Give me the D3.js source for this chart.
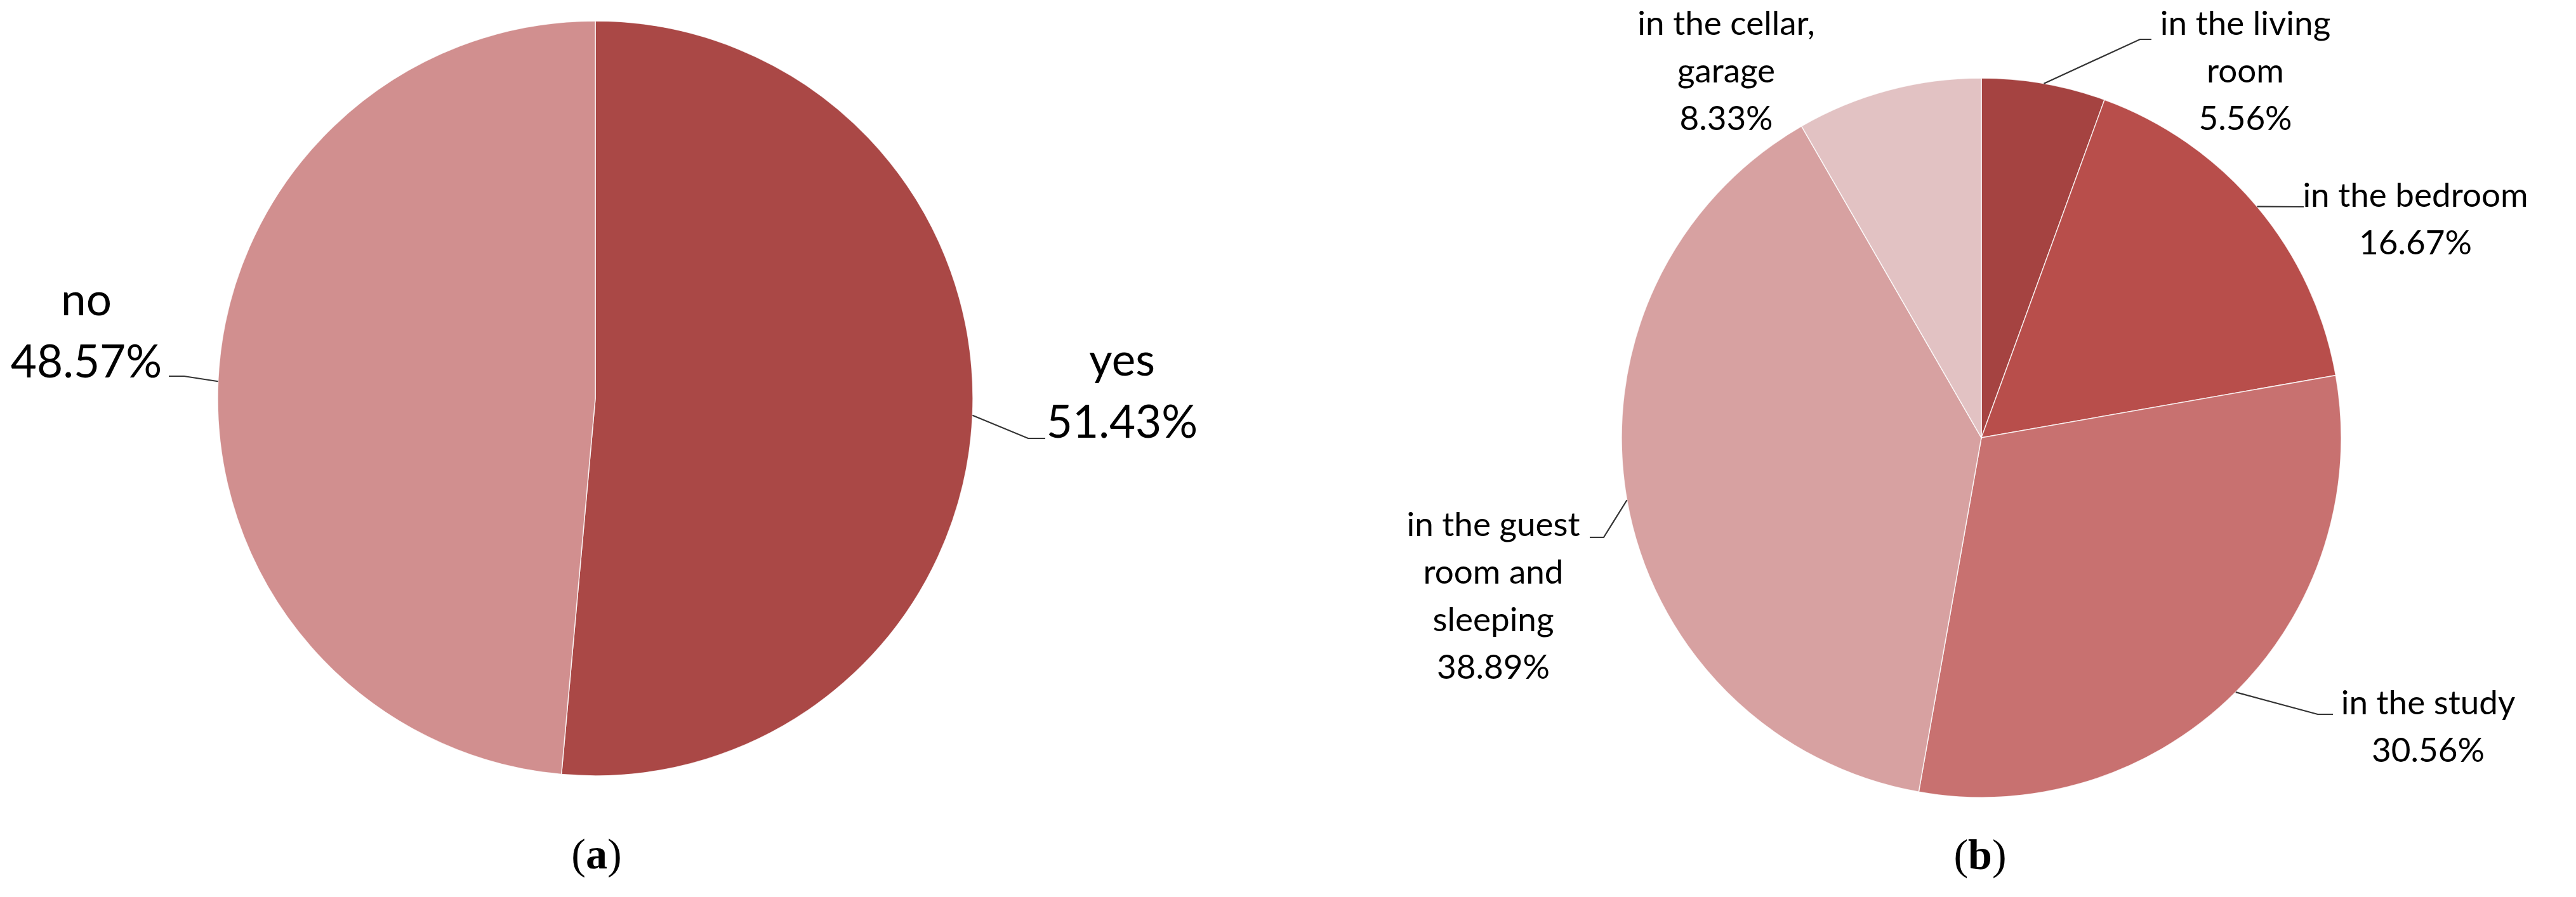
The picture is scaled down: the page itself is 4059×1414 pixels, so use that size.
<!DOCTYPE html>
<html>
<head>
<meta charset="utf-8">
<script src="https://cdn.jsdelivr.net/npm/d3@7"></script>
<style>
  html, body { margin: 0; padding: 0; background: #fff; }
  svg { display: block; }
</style>
</head>
<body>
<svg id="chart" width="4059" height="1414"></svg>
<script>
// ---------- DATA ----------
const categoriesA = ["yes", "no"];
const valuesA = [51.43, 48.57];
const colorsA = ["#AA4846", "#D18F8F"];

const categoriesB = ["in the living room", "in the bedroom", "in the study", "in the guest room and sleeping", "in the cellar, garage"];
const labelLinesB = [["in the living", "room"], ["in the bedroom"], ["in the study"], ["in the guest", "room and", "sleeping"], ["in the cellar,", "garage"]];
const valuesB = [5.56, 16.67, 30.56, 38.89, 8.33];
const colorsB = ["#A54341", "#B84E4B", "#C87170", "#D7A1A1", "#E2C2C3"];

const captions = ["a", "b"];

// ---------- LAYOUT ----------
const svg = d3.select("#chart");
const FONT = "Lato, 'Open Sans', sans-serif";

const panelA = {
  cx: 938, cy: 628, r: 595, fontSize: 71, lineH: 98,
  labels: [
    { x: 1768, y: 592, anchor: "middle", leader: [[1620, 691], [1647, 691]] },
    { x: 136, y: 497, anchor: "middle", leader: [[290, 593], [266, 593]] }
  ],
  caption: { x: 940, y: 1369 }
};
const panelB = {
  cx: 3122, cy: 690, r: 567, fontSize: 53, lineH: 75,
  labels: [
    { x: 3538, y: 55, anchor: "middle", leader: [[3372, 62], [3390, 62]] },
    { x: 3806, y: 326, anchor: "middle", leader: [[3630, 326]] },
    { x: 3826, y: 1126, anchor: "middle", leader: [[3652, 1126], [3676, 1126]] },
    { x: 2353, y: 845, anchor: "middle", leader: [[2527, 847], [2505, 847]] },
    { x: 2720, y: 55, anchor: "middle", leader: null }
  ],
  caption: { x: 3120, y: 1370 }
};

function drawPie(panel, values, colors, lines, captionLetter) {
  const pie = d3.pie().sort(null).value(d => d).startAngle(0).endAngle(2 * Math.PI);
  const arcs = pie(values);
  const arc = d3.arc().innerRadius(0).outerRadius(panel.r);
  const g = svg.append("g").attr("transform", `translate(${panel.cx},${panel.cy})`);

  g.selectAll("path.slice")
    .data(arcs)
    .join("path")
    .attr("class", "slice")
    .attr("d", arc)
    .attr("fill", (d, i) => colors[i])
    .attr("stroke", "#ffffff")
    .attr("stroke-width", 1.5)
    .attr("stroke-opacity", 0.8);

  // leader lines
  arcs.forEach((d, i) => {
    const lab = panel.labels[i];
    if (!lab.leader) return;
    const mid = (d.startAngle + d.endAngle) / 2;
    const sx = panel.cx + panel.r * Math.sin(mid);
    const sy = panel.cy - panel.r * Math.cos(mid);
    const pts = [[sx, sy]].concat(lab.leader);
    svg.append("path")
      .attr("d", d3.line()(pts))
      .attr("fill", "none")
      .attr("stroke", "#333333")
      .attr("stroke-width", 2.2);
  });

  // labels
  arcs.forEach((d, i) => {
    const lab = panel.labels[i];
    const textLines = lines[i].concat([d3.format(".2f")(values[i]) + "%"]);
    const t = svg.append("text")
      .attr("x", lab.x).attr("y", lab.y)
      .attr("text-anchor", lab.anchor)
      .attr("font-family", FONT)
      .attr("font-size", panel.fontSize)
      .attr("fill", "#000");
    textLines.forEach((s, k) => {
      t.append("tspan").attr("x", lab.x).attr("y", lab.y + k * panel.lineH).text(s);
    });
  });

  // caption
  const c = svg.append("text")
    .attr("x", panel.caption.x).attr("y", panel.caption.y)
    .attr("text-anchor", "middle")
    .attr("font-family", "'Liberation Serif', 'Times New Roman', serif")
    .attr("font-size", 68)
    .attr("fill", "#000");
  c.append("tspan").text("(");
  c.append("tspan").attr("font-weight", "bold").text(captionLetter);
  c.append("tspan").text(")");
}

drawPie(panelA, valuesA, colorsA, categoriesA.map(s => [s]), captions[0]);
drawPie(panelB, valuesB, colorsB, labelLinesB, captions[1]);
</script>
</body>
</html>
